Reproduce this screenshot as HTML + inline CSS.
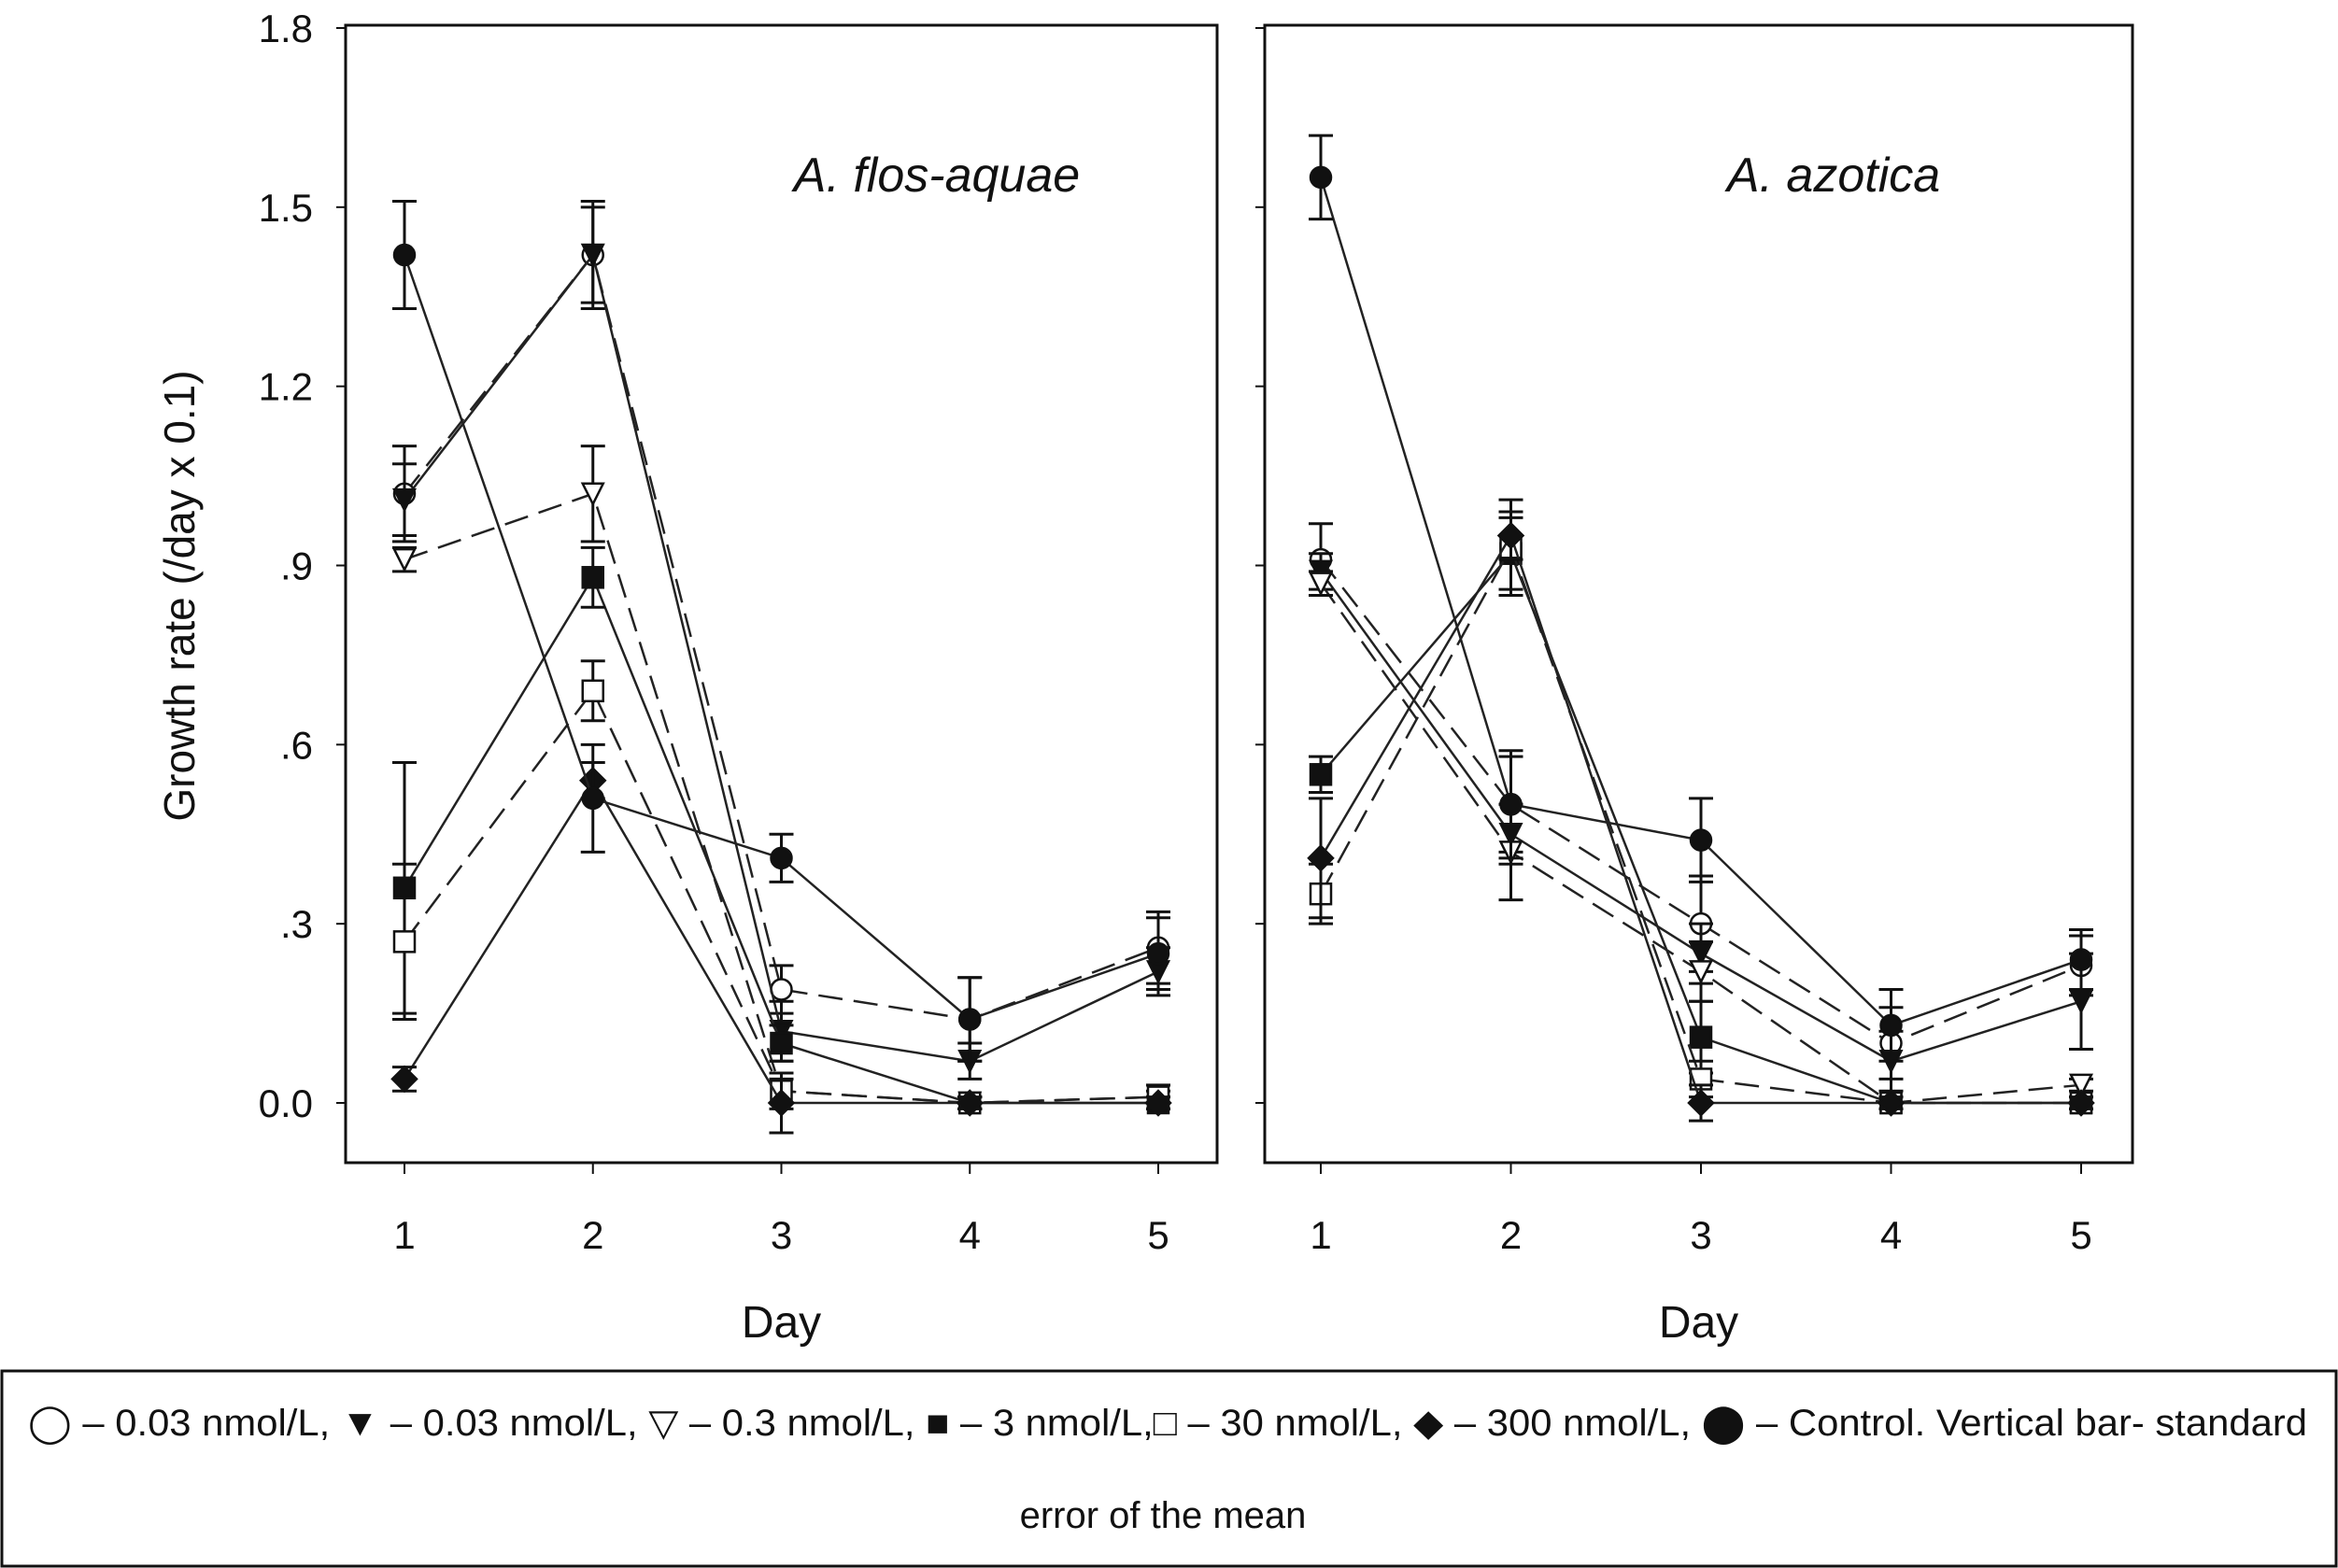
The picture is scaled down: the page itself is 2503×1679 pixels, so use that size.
<!DOCTYPE html>
<html><head><meta charset="utf-8"><style>
html,body{margin:0;padding:0;background:#fff;}
svg{display:block;font-family:"Liberation Sans",Arial,sans-serif;}
</style></head><body>
<svg id="chart" width="2503" height="1679" viewBox="0 0 2503 1679" xmlns="http://www.w3.org/2000/svg">
<rect x="0" y="0" width="2503" height="1679" fill="#fff"/>
<g id="plots"></g>
<text transform="translate(208,638) rotate(-90)" text-anchor="middle" font-size="46" fill="#111">Growth rate (/day x 0.1)</text>
<rect x="2" y="1468" width="2499" height="209" fill="none" stroke="#111" stroke-width="3"/>
<text x="1250" y="1537" text-anchor="middle" font-size="40" fill="#111" textLength="2440" lengthAdjust="spacingAndGlyphs">◯ – 0.03 nmol/L,  ▼ – 0.03 nmol/L, ▽ – 0.3 nmol/L, ■ – 3 nmol/L,□ – 30 nmol/L, ◆ – 300 nmol/L, ⬤ – Control. Vertical bar- standard</text>
<text x="1245" y="1636" text-anchor="middle" font-size="40" fill="#111">error of the mean</text>
</svg>
<script>
const days = [1,2,3,4,5];
const yTicks = [0,0.3,0.6,0.9,1.2,1.5,1.8];
const yTickLabels = ["0.0",".3",".6",".9","1.2","1.5","1.8"];
const seriesNames = ["c003","t003","t03","s3","s30","d300","ctrl"];
const seriesMarkers = ["ocircle","ftri","otri","fsq","osq","fdia","fcircle"];
const seriesDashed = [true,false,true,false,true,false,false];
// Panel A. flos-aquae
const flosC003 = [1.02,1.42,0.19,0.14,0.26];
const flosT003 = [1.01,1.42,0.12,0.07,0.22];
const flosT03 = [0.91,1.02,0.02,0.00,0.01];
const flosS3 = [0.36,0.88,0.10,0.00,0.00];
const flosS30 = [0.27,0.69,0.02,0.00,0.01];
const flosD300 = [0.04,0.54,0.00,0.00,0.00];
const flosCtrl = [1.42,0.51,0.41,0.14,0.25];
const flosErr = [[0.08,0.09,0.04,0.07,0.06],[0.06,0.08,0.05,0.03,0.04],[0.02,0.08,0.03,0.01,0.02],[0.21,0.05,0.03,0.01,0.01],[0.13,0.05,0.02,0.01,0.01],[0.02,0.03,0.05,0.01,0.01],[0.09,0.09,0.04,0.07,0.06]];
// Panel A. azotica
const azoC003 = [0.91,0.50,0.30,0.10,0.23];
const azoT003 = [0.89,0.45,0.25,0.07,0.17];
const azoT03 = [0.87,0.42,0.22,0.00,0.03];
const azoS3 = [0.55,0.92,0.11,0.00,0.00];
const azoS30 = [0.35,0.93,0.04,0.00,0.00];
const azoD300 = [0.41,0.95,0.00,0.00,0.00];
const azoCtrl = [1.55,0.50,0.44,0.13,0.24];
const azoErr = [[0.06,0.08,0.08,0.06,0.05],[0.03,0.05,0.05,0.05,0.08],[0.02,0.08,0.05,0.01,0.01],[0.03,0.06,0.06,0.01,0.01],[0.05,0.08,0.03,0.01,0.01],[0.10,0.04,0.03,0.01,0.01],[0.07,0.09,0.07,0.06,0.05]];

const panels = [
 {name:"flos-aquae", title:"A. flos-aquae", x0:370, x1:1303, dx1:433, dx5:1240, series:[flosC003,flosT003,flosT03,flosS3,flosS30,flosD300,flosCtrl], err:flosErr, tx:1003},
 {name:"azotica", title:"A. azotica", x0:1354, x1:2283, dx1:1414, dx5:2228, series:[azoC003,azoT003,azoT03,azoS3,azoS30,azoD300,azoCtrl], err:azoErr, tx:1963}
];
const NS="http://www.w3.org/2000/svg";
const yTop=27, yBot=1245, y0px=1181, y18px=30;
function yS(v){return y0px-(v/1.8)*(y0px-y18px);}
function mk(tag,attrs,parent){const e=document.createElementNS(NS,tag);for(const k in attrs)e.setAttribute(k,attrs[k]);parent.appendChild(e);return e;}
const root=document.getElementById('plots');
panels.forEach((p,pi)=>{
 const xS=d=>p.dx1+(d-1)*(p.dx5-p.dx1)/4;
 const g=mk('g',{},root);
 
 
 const frame=mk('rect',{x:p.x0,y:yTop,width:p.x1-p.x0,height:yBot-yTop,fill:'none',stroke:'#111','stroke-width':3},g);
 
 
 yTicks.forEach((t,i)=>{
  const l=mk('line',{x1:p.x0-10,x2:p.x0,y1:yS(t),y2:yS(t),stroke:'#111','stroke-width':2},g);
  
  
  if(pi===0){const tx=mk('text',{x:335,y:yS(t)+15,'text-anchor':'end','font-size':42,fill:'#111'},g);tx.textContent=yTickLabels[i];
   
   }
 });
 days.forEach(d=>{
  const l=mk('line',{x1:xS(d),x2:xS(d),y1:yBot,y2:yBot+12,stroke:'#111','stroke-width':2},g);
  
  
  const t=mk('text',{x:xS(d),y:1337,'text-anchor':'middle','font-size':42,fill:'#111'},g);t.textContent=d;
  
  
 });
 const xt=mk('text',{x:(p.x0+p.x1)/2,y:1432,'text-anchor':'middle','font-size':48,fill:'#111'},g);xt.textContent='Day';
 
 
 const tt=mk('text',{x:p.tx,y:205,'text-anchor':'middle','font-size':52,'font-style':'italic',fill:'#111'},g);tt.textContent=p.title;
 
 
 p.series.forEach((vals,si)=>{
  const sg=mk('g',{},g);
  
  
  const pts=vals.map((v,i)=>xS(days[i])+','+yS(v)).join(' ');
  const pl=mk('polyline',{points:pts,fill:'none',stroke:'#222','stroke-width':2.5,'stroke-dasharray':seriesDashed[si]?'26 12':'none'},sg);
  
  
  vals.forEach((v,i)=>{
   const x=xS(days[i]),y=yS(v),e=p.err[si][i];
   const eb=mk('path',{d:`M${x},${yS(v+e)}V${yS(v-e)}M${x-13},${yS(v+e)}H${x+13}M${x-13},${yS(v-e)}H${x+13}`,stroke:'#111','stroke-width':3,fill:'none'},sg);
   
   
   const m=seriesMarkers[si];const r=11;let el;
   const fill=m[0]==='f'?'#111':'#fff';
   if(m.endsWith('circle'))el=mk('circle',{cx:x,cy:y,r:r},sg);
   else if(m.endsWith('sq'))el=mk('rect',{x:x-r,y:y-r,width:2*r,height:2*r},sg);
   else if(m.endsWith('tri'))el=mk('polygon',{points:`${x-r},${y-r} ${x+r},${y-r} ${x},${y+r}`},sg);
   else el=mk('polygon',{points:`${x},${y-r-2} ${x+r+2},${y} ${x},${y+r+2} ${x-r-2},${y}`},sg);
   el.setAttribute('fill',fill);el.setAttribute('stroke','#111');el.setAttribute('stroke-width',2.5);
   
   
  });
 });
});
</script>
</body></html>
